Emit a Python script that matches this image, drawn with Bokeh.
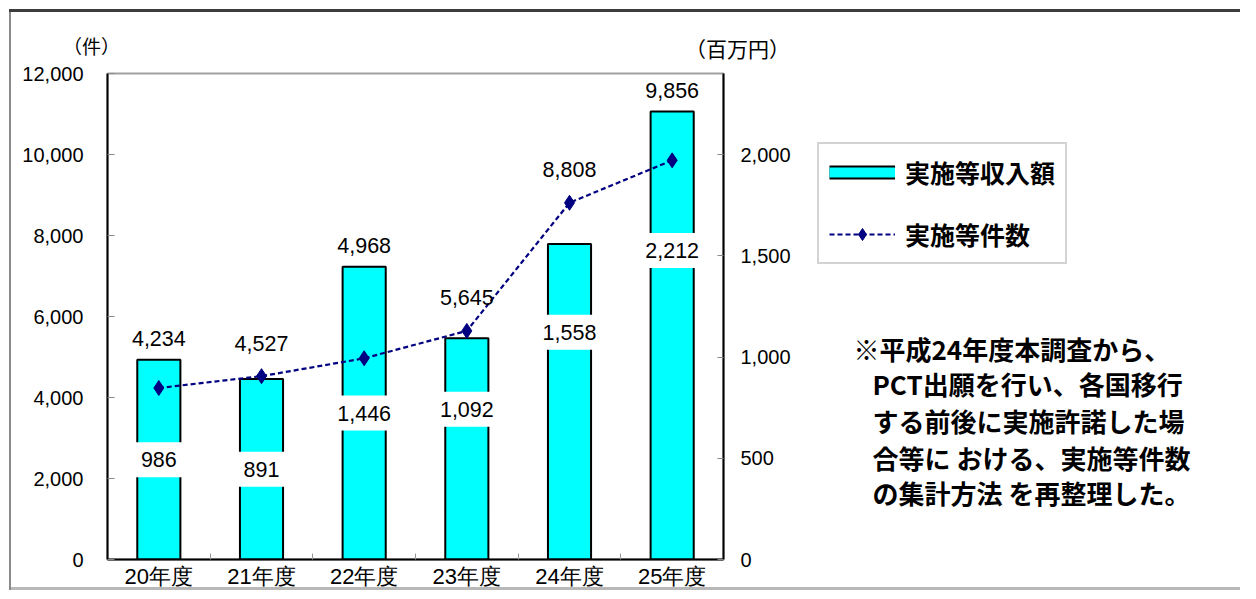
from bokeh.plotting import figure
from bokeh.layouts import column, row
from bokeh.models import (Range1d, LinearAxis, FixedTicker, NumeralTickFormatter,
                          Legend, LegendItem, Label, ColumnDataSource)
from bokeh.core.properties import value
from bokeh.embed import file_html
from bokeh.resources import INLINE

# ---------------- data ----------------
years = ["20年度", "21年度", "22年度", "23年度", "24年度", "25年度"]
income = [986, 891, 1446, 1092, 1558, 2212]      # 実施等収入額（百万円）
cases = [4234, 4527, 4968, 5645, 8808, 9856]     # 実施等件数（件）
left_ticks = [0, 2000, 4000, 6000, 8000, 10000, 12000]
right_ticks = [0, 500, 1000, 1500, 2000]
left_max = 12000
right_max = 2400
income_label_frac = [0.5, 0.5, 0.5, 0.68, 0.72, 0.69]   # where the bar label sits in the bar
left_unit = "（件）"
right_unit = "（百万円）"
series_names = ["実施等収入額", "実施等件数"]
note_lines = [
    "※平成24年度本調査から、",
    "PCT出願を行い、各国移行",
    "する前後に実施許諾した場",
    "合等に おける、実施等件数",
    "の集計方法 を再整理した。",
]

NUM_FONT = "Liberation Sans"
JP_FONT = "Noto Sans CJK JP"
BAR_FILL = "#00FFFF"
LINE_COL = "#000080"

xs = list(range(1, len(years) + 1))
ratio = left_max / right_max

# value labels above the higher of bar / line point
top_y, top_off = [], []
for inc, c in zip(income, cases):
    if inc * ratio >= c:
        top_y.append(inc * ratio)
        top_off.append(-21)
    else:
        top_y.append(c)
        top_off.append(-33)

src = ColumnDataSource(dict(
    x=xs, income=income, cases=cases,
    income_lbl=[f"{v:,}" for v in income],
    cases_lbl=[f"{v:,}" for v in cases],
    inc_y=[v * f for v, f in zip(income, income_label_frac)],
    top_y=top_y, top_off=top_off,
))

TOTAL_W, TOTAL_H = 1240, 591
HEAD_H = 64
MAIN_W = 810
FRAME_TOP, FRAME_BOTTOM = 73, 563      # page y of the plot frame
MAIN_H = TOTAL_H - HEAD_H
BORDER_TOP = FRAME_TOP - HEAD_H
BORDER_BOTTOM = TOTAL_H - FRAME_BOTTOM

# ---------------- header with unit labels ----------------
head = figure(width=TOTAL_W, height=HEAD_H, x_range=Range1d(0, TOTAL_W), y_range=Range1d(0, HEAD_H),
              x_axis_location=None, y_axis_location=None, toolbar_location=None,
              output_backend="svg", min_border=0)
head.grid.visible = False
head.outline_line_color = None
head.border_fill_color = None
head.background_fill_color = None
head.add_layout(Label(x=91, y=HEAD_H - 45, x_units="screen", y_units="screen", text=left_unit,
                      text_align="center", text_baseline="middle", text_font=JP_FONT,
                      text_font_size="19px", text_color="black"))
head.add_layout(Label(x=737, y=HEAD_H - 47, x_units="screen", y_units="screen", text=right_unit,
                      text_align="center", text_baseline="middle", text_font=JP_FONT,
                      text_font_size="21px", text_color="black"))

# ---------------- main chart ----------------
p = figure(width=MAIN_W, height=MAIN_H, x_range=Range1d(0.5, len(years) + 0.5),
           y_range=Range1d(0, left_max), output_backend="svg", toolbar_location=None,
           min_border_left=107, min_border_right=87, min_border_top=BORDER_TOP,
           min_border_bottom=BORDER_BOTTOM)
p.extra_y_ranges = {"amt": Range1d(0, right_max)}
p.border_fill_color = None
p.background_fill_color = "white"
p.outline_line_color = "#a0a0a0"
p.outline_line_width = 2
p.xgrid.visible = False
p.ygrid.visible = False

bars = p.vbar(x="x", top="income", width=0.42, source=src, y_range_name="amt",
              fill_color=BAR_FILL, line_color="black", line_width=2)
ln = p.line(x="x", y="cases", source=src, line_color=LINE_COL, line_width=2.2, line_dash="5 3")
mk = p.scatter(x="x", y="cases", source=src, marker="diamond", size=15,
               fill_color=LINE_COL, line_color=LINE_COL)

p.text(x="x", y="inc_y", text="income_lbl", source=src, y_range_name="amt",
       text_align="center", text_baseline="middle", text_font=value(NUM_FONT),
       text_font_size="21.5px", text_color="black",
       background_fill_color="white", padding=10)
p.text(x="x", y="top_y", text="cases_lbl", source=src, y_offset="top_off",
       text_align="center", text_baseline="middle", text_font=value(NUM_FONT),
       text_font_size="21.5px", text_color="black")

xa = p.xaxis[0]
xa.ticker = FixedTicker(ticks=xs, minor_ticks=[x + 0.5 for x in xs[:-1]])
xa.major_label_overrides = {x: y for x, y in zip(xs, years)}
xa.major_tick_in = 0
xa.major_tick_out = 0
xa.minor_tick_in = 6
xa.minor_tick_out = 0
xa.minor_tick_line_color = "#999999"
xa.axis_line_color = "black"
xa.axis_line_width = 2
xa.major_label_standoff = 4
xa.major_label_text_font = NUM_FONT
xa.major_label_text_font_size = "22px"
xa.major_label_text_color = "black"

ya = p.yaxis[0]
ya.ticker = FixedTicker(ticks=left_ticks)
ya.formatter = NumeralTickFormatter(format="0,0")
ya.major_tick_in = 7
ya.major_tick_out = 0
ya.minor_tick_in = 0
ya.minor_tick_out = 0
ya.major_tick_line_color = "#888888"
ya.axis_line_color = "black"
ya.axis_line_width = 2
ya.major_label_standoff = 24
ya.major_label_text_font = NUM_FONT
ya.major_label_text_font_size = "20px"
ya.major_label_text_color = "black"

ra = LinearAxis(y_range_name="amt", ticker=FixedTicker(ticks=right_ticks),
                formatter=NumeralTickFormatter(format="0,0"))
ra.major_tick_in = 6
ra.major_tick_out = 0
ra.minor_tick_in = 0
ra.minor_tick_out = 0
ra.major_tick_line_color = "#888888"
ra.axis_line_color = "black"
ra.axis_line_width = 2
ra.major_label_standoff = 17
ra.major_label_text_font = NUM_FONT
ra.major_label_text_font_size = "20px"
ra.major_label_text_color = "black"
p.add_layout(ra, "right")

# ---------------- side panel: legend + note ----------------
SIDE_W = TOTAL_W - MAIN_W
side = figure(width=SIDE_W, height=MAIN_H, x_range=Range1d(0, SIDE_W), y_range=Range1d(0, 1),
              x_axis_location=None, y_axis_location=None, toolbar_location=None,
              output_backend="svg", min_border_left=0, min_border_right=0,
              min_border_top=BORDER_TOP, min_border_bottom=BORDER_BOTTOM)
side.grid.visible = False
side.outline_line_color = None
side.border_fill_color = None
side.background_fill_color = None

# legend swatches only (hidden renderers, styled like the chart's series)
lg_bar_edge = side.line(x="x", y="income", source=src, line_color="black", line_width=14, visible=False)
lg_bar_fill = side.line(x="x", y="income", source=src, line_color=BAR_FILL, line_width=10, visible=False)
lg_ln = side.line(x="x", y="cases", source=src, line_color=LINE_COL, line_width=2.2,
                  line_dash="5 3", visible=False)
lg_mk = side.scatter(x="x", y="cases", source=src, marker="diamond", size=15,
                     fill_color=LINE_COL, line_color=LINE_COL, visible=False)

legend = Legend(items=[LegendItem(label=series_names[0], renderers=[lg_bar_edge, lg_bar_fill]),
                       LegendItem(label=series_names[1], renderers=[lg_ln, lg_mk])],
                location=(817 - MAIN_W, FRAME_BOTTOM - 268), orientation="vertical",
                glyph_width=66, glyph_height=30, label_height=36, spacing=26,
                padding=10, label_standoff=10, click_policy="none",
                label_text_font=JP_FONT, label_text_font_size="25px",
                label_text_font_style="bold", label_text_color="black",
                border_line_color="#a8a8a8", border_line_width=2,
                background_fill_color="white")
side.add_layout(legend)

note_x = [853, 872, 872, 872, 872]
note_y = [352, 387, 424, 461, 496]
for t, nx, ny in zip(note_lines, note_x, note_y):
    side.add_layout(Label(x=nx - MAIN_W, y=FRAME_BOTTOM - ny, x_units="screen", y_units="screen", text=t,
                          text_align="left", text_baseline="middle", text_font=JP_FONT,
                          text_font_size="26px", text_font_style="bold", text_color="black"))

layout = column(head, row(p, side))
layout.styles = {"box-shadow": ("inset 0 9px 0 #ffffff, inset 9px 0 0 #ffffff, inset 0 -1px 0 #ffffff, "
                                "inset 0 12px 0 #3c3c3c, inset 11px 0 0 #8a8a8a, inset 0 -4px 0 #b8b8b8")}

open("out.html", "w").write(file_html(layout, INLINE))
